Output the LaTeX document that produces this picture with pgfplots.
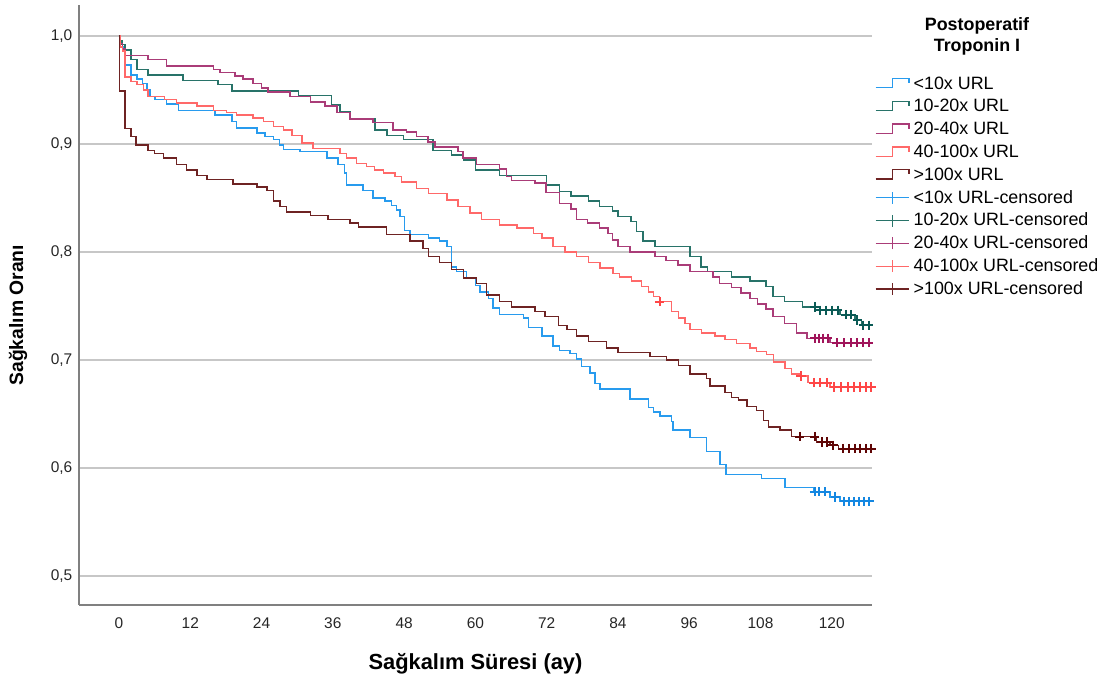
\documentclass[border=0pt]{standalone}
\usepackage{fontspec}
\setmainfont{Liberation Sans}
\usepackage{pgfplots}
\usepackage{pgfplotstable}
\pgfplotsset{compat=1.18}
\definecolor{cB}{RGB}{40,155,238}\definecolor{cBm}{RGB}{20,135,225}
\definecolor{cT}{RGB}{40,115,105}\definecolor{cTm}{RGB}{10,90,85}
\definecolor{cP}{RGB}{170,60,120}\definecolor{cPm}{RGB}{160,20,90}
\definecolor{cR}{RGB}{255,105,105}\definecolor{cRm}{RGB}{255,70,70}
\definecolor{cM}{RGB}{110,35,35}\definecolor{cMm}{RGB}{95,5,5}
\pgfplotstableread{
t s
0 1.000
0.3 0.990
1.0 0.973
2.0 0.964
3.0 0.960
4.0 0.956
4.7 0.950
5.2 0.944
6.1 0.941
8.0 0.937
10.0 0.931
16.2 0.927
19.0 0.921
19.8 0.915
23.2 0.910
24.6 0.907
26.0 0.904
27.0 0.899
27.7 0.895
30.5 0.893
35.0 0.887
36.9 0.881
38.0 0.873
38.3 0.862
41.1 0.857
42.8 0.850
44.8 0.847
45.9 0.843
46.7 0.839
47.3 0.833
48.1 0.820
49.0 0.816
52.1 0.813
54.0 0.810
55.2 0.805
56.0 0.786
56.8 0.782
58.5 0.776
60.0 0.769
60.8 0.763
62.2 0.757
63.0 0.748
64.1 0.742
68.1 0.739
68.9 0.730
71.2 0.722
73.1 0.713
74.2 0.709
75.9 0.706
77.0 0.701
77.9 0.694
79.3 0.688
80.1 0.678
81.0 0.673
86.0 0.664
89.1 0.656
90.0 0.652
91.1 0.648
93.0 0.643
93.3 0.635
96.1 0.628
98.9 0.615
101.2 0.603
102.2 0.594
108.2 0.590
112.1 0.582
116.9 0.578
119.7 0.573
121.4 0.569
126.8 0.569
}\curveA
\pgfplotstableread{
t s
0 1.000
0.2 0.996
0.5 0.992
1.0 0.987
2.0 0.978
3.0 0.969
4.9 0.964
10.8 0.959
16.7 0.955
19.0 0.949
30.2 0.945
35.8 0.936
37.2 0.930
38.9 0.923
43.1 0.913
45.1 0.908
47.9 0.904
52.9 0.894
56.0 0.890
58.0 0.885
60.0 0.876
64.1 0.871
72.0 0.862
74.2 0.856
76.1 0.852
79.0 0.847
80.9 0.842
83.1 0.838
84.0 0.833
86.2 0.828
87.1 0.819
88.2 0.810
90.2 0.805
96.1 0.796
98.0 0.786
99.1 0.782
103.1 0.777
106.2 0.773
108.9 0.768
110.1 0.759
112.0 0.754
115.1 0.749
117.3 0.746
121.4 0.742
123.9 0.737
125.0 0.732
126.8 0.732
}\curveB
\pgfplotstableread{
t s
0 1.000
0.2 0.993
0.6 0.988
1.0 0.982
4.9 0.978
8.0 0.972
15.9 0.969
17.0 0.966
19.5 0.963
20.9 0.960
22.6 0.956
24.0 0.952
25.1 0.948
28.8 0.944
32.2 0.939
34.7 0.935
36.7 0.929
38.9 0.923
42.8 0.920
46.1 0.913
48.4 0.911
50.1 0.907
52.0 0.902
53.2 0.897
57.1 0.893
57.9 0.887
60.2 0.881
64.1 0.877
65.2 0.870
66.1 0.866
70.0 0.864
71.9 0.855
74.2 0.845
76.1 0.840
77.0 0.830
78.9 0.827
80.9 0.822
82.3 0.817
83.1 0.811
84.0 0.805
86.0 0.800
90.2 0.796
92.1 0.792
94.1 0.788
96.1 0.782
100.0 0.777
101.1 0.771
103.1 0.767
104.7 0.762
106.2 0.757
107.5 0.752
108.9 0.747
110.1 0.740
112.0 0.734
114.1 0.725
115.8 0.720
119.7 0.716
126.8 0.716
}\curveC
\pgfplotstableread{
t s
0 1.000
0.2 0.990
0.6 0.986
1.0 0.962
2.0 0.958
3.0 0.955
4.1 0.950
4.9 0.944
7.7 0.941
9.7 0.938
13.1 0.935
15.9 0.931
18.1 0.929
19.8 0.927
22.6 0.924
24.3 0.921
26.0 0.916
27.7 0.913
29.1 0.908
30.8 0.901
32.7 0.896
37.2 0.891
38.3 0.887
40.0 0.882
41.7 0.879
43.0 0.876
44.5 0.873
46.5 0.870
47.6 0.865
50.1 0.859
52.1 0.854
55.2 0.848
57.1 0.842
59.1 0.836
61.0 0.830
64.1 0.825
67.0 0.822
69.8 0.817
71.2 0.813
73.1 0.805
75.1 0.800
77.0 0.796
79.0 0.790
81.0 0.785
83.2 0.780
84.3 0.777
86.3 0.773
88.0 0.768
89.1 0.763
90.0 0.759
91.0 0.754
93.0 0.745
94.2 0.739
95.3 0.734
96.1 0.728
98.1 0.725
100.3 0.722
102.0 0.719
104.0 0.715
106.2 0.711
107.3 0.708
109.0 0.705
110.2 0.698
112.1 0.692
113.2 0.687
114.8 0.685
116.0 0.679
119.7 0.675
126.8 0.675
}\curveD
\pgfplotstableread{
t s
0 1.000
0.05 0.949
1.0 0.9145
2.0 0.907
2.9 0.899
4.9 0.894
6.0 0.891
7.5 0.887
9.7 0.881
11.4 0.876
13.1 0.871
14.8 0.867
19.2 0.863
23.2 0.860
24.9 0.857
26.0 0.847
27.1 0.842
28.2 0.837
32.2 0.834
35.2 0.830
38.9 0.827
40.3 0.823
45.0 0.816
49.0 0.810
51.2 0.803
52.1 0.796
54.0 0.790
56.0 0.784
58.0 0.776
60.2 0.771
61.9 0.760
64.1 0.754
66.1 0.749
70.0 0.745
71.7 0.740
74.0 0.732
75.4 0.728
77.0 0.722
79.0 0.717
82.1 0.711
84.0 0.707
89.4 0.703
92.2 0.700
94.2 0.695
96.1 0.687
98.9 0.683
99.5 0.676
102.0 0.670
103.1 0.665
104.3 0.663
105.7 0.657
107.3 0.653
108.5 0.644
109.3 0.638
111.3 0.635
113.2 0.629
117.4 0.624
119.7 0.621
121.1 0.618
126.8 0.618
}\curveE
\pgfplotstableread{
t s
117.1 0.578
117.9 0.578
118.9 0.578
120.6 0.573
122.1 0.569
122.9 0.569
123.8 0.569
124.6 0.569
125.5 0.569
126.3 0.569
}\censA
\pgfplotstableread{
t s
117.1 0.749
118.0 0.746
119.0 0.746
120.0 0.746
121.0 0.746
122.4 0.742
123.3 0.742
124.3 0.737
125.3 0.732
126.2 0.732
}\censB
\pgfplotstableread{
t s
117.1 0.720
117.9 0.720
118.6 0.720
119.3 0.720
120.9 0.716
122.1 0.716
123.2 0.716
124.2 0.716
125.2 0.716
126.2 0.716
}\censC
\pgfplotstableread{
t s
91.0 0.754
114.8 0.685
117.0 0.679
118.0 0.679
119.2 0.679
120.4 0.675
121.6 0.675
122.7 0.675
123.7 0.675
124.7 0.675
125.7 0.675
126.6 0.675
}\censD
\pgfplotstableread{
t s
114.6 0.629
117.1 0.629
118.3 0.624
119.2 0.624
120.2 0.621
121.9 0.618
122.9 0.618
123.9 0.618
124.8 0.618
125.7 0.618
126.6 0.618
}\censE
\newcommand{\stepicon}[1]{\draw[#1,line width=1pt] (0pt,-2.5pt)--(12.5pt,-2.5pt)--(12.5pt,4.5pt)--(25pt,4.5pt)--(25pt,1pt);}
\newcommand{\plusicon}[1]{\draw[#1,line width=1pt] (0pt,0.5pt)--(25pt,0.5pt); \draw[#1,line width=1pt] (12.5pt,-4pt)--(12.5pt,5pt);}
\begin{document}
\begin{tikzpicture}
\begin{axis}[
  scale only axis, width=594.75pt, height=450pt,
  xmin=-6.73, xmax=126.77, ymin=0.4731, ymax=1.0287,
  axis x line*=bottom, axis y line*=left,
  axis line style={draw=black!50, line width=0.8pt},
  xtick={0,12,24,36,48,60,72,84,96,108,120},
  xticklabels={0,12,24,36,48,60,72,84,96,108,120},
  ytick={0.5,0.6,0.7,0.8,0.9,1.0},
  yticklabels={{0,5},{0,6},{0,7},{0,8},{0,9},{1,0}},
  major tick length=0pt,
  ymajorgrids, grid style={draw=black!22, line width=0.9pt},
  tick label style={font=\fontsize{11.6}{13}\selectfont, text=black!85},
  xticklabel style={yshift=-6pt},
  yticklabel style={xshift=-1.5pt},
  xlabel={Sağkalım Süresi (ay)}, ylabel={Sağkalım Oranı},
  xlabel style={at={(rel axis cs:0.5,-0.0983)}, anchor=center, font=\bfseries\fontsize{16.4}{19}\selectfont},
  ylabel style={at={(rel axis cs:-0.0769,0.483)}, anchor=center, font=\bfseries\fontsize{14.5}{17}\selectfont},
  clip=false,
  legend cell align=left,
  legend style={at={(rel axis cs:1.0038,0.8809)}, anchor=north west, draw=none, fill=none,
    inner sep=0pt, outer sep=0pt, row sep=5.1pt, column sep=3pt,
    font=\fontsize{13.4}{15}\selectfont,
    nodes={inner sep=0pt, text height=9.5pt, text depth=2.5pt}},
]
\addplot[const plot, cB, line width=1.1pt, legend image code/.code={\stepicon{cB}}] table[x=t,y=s] {\curveA};
\addlegendentry{<10x URL}
\addplot[const plot, cT, line width=1.1pt, legend image code/.code={\stepicon{cT}}] table[x=t,y=s] {\curveB};
\addlegendentry{10-20x URL}
\addplot[const plot, cP, line width=1.1pt, legend image code/.code={\stepicon{cP}}] table[x=t,y=s] {\curveC};
\addlegendentry{20-40x URL}
\addplot[const plot, cR, line width=1.1pt, legend image code/.code={\stepicon{cR}}] table[x=t,y=s] {\curveD};
\addlegendentry{40-100x URL}
\addplot[const plot, cM, line width=1.1pt, legend image code/.code={\stepicon{cM}}] table[x=t,y=s] {\curveE};
\addlegendentry{>100x URL}
\addplot[only marks, mark=+, mark size=3.5pt, cBm, mark options={line width=1.5pt}, legend image code/.code={\plusicon{cB}}] table[x=t,y=s] {\censA};
\addlegendentry{<10x URL-censored}
\addplot[only marks, mark=+, mark size=3.5pt, cTm, mark options={line width=1.5pt}, legend image code/.code={\plusicon{cT}}] table[x=t,y=s] {\censB};
\addlegendentry{10-20x URL-censored}
\addplot[only marks, mark=+, mark size=3.5pt, cPm, mark options={line width=1.5pt}, legend image code/.code={\plusicon{cP}}] table[x=t,y=s] {\censC};
\addlegendentry{20-40x URL-censored}
\addplot[only marks, mark=+, mark size=3.5pt, cRm, mark options={line width=1.5pt}, legend image code/.code={\plusicon{cR}}] table[x=t,y=s] {\censD};
\addlegendentry{40-100x URL-censored}
\addplot[only marks, mark=+, mark size=3.5pt, cMm, mark options={line width=1.5pt}, legend image code/.code={\plusicon{cM}}] table[x=t,y=s] {\censE};
\addlegendentry{>100x URL-censored}
\node[font=\bfseries\fontsize{13.4}{15.75}\selectfont, align=center] at (rel axis cs:1.1324,0.9475) {Postoperatif\\Troponin I};
\coordinate (BL) at (rel axis cs:-0.09962,-0.13167);
\coordinate (TR) at (rel axis cs:1.29634,1.00833);
\end{axis}
\pgfresetboundingbox
\path[use as bounding box] (BL) rectangle (TR);
\end{tikzpicture}
\end{document}
